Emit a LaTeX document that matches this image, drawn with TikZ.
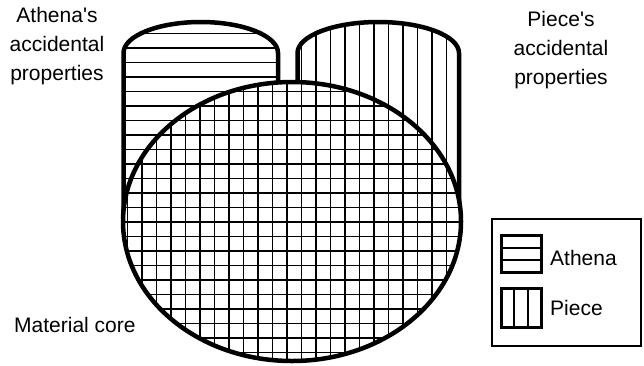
\documentclass[tikz,border=0pt]{standalone}
\usepackage{fontspec}
\setmainfont{Liberation Sans}[Ligatures=TeXOff]
\begin{document}
\begin{tikzpicture}[x=1pt,y=-1pt,
  outline/.style={line width=4.5pt,line join=round},
  hatch/.style={line width=1.8pt},
  lab/.style={font=\fontsize{21}{29}\selectfont,inner sep=0pt,align=center},
  legtext/.style={font=\fontsize{21}{26}\selectfont,inner sep=0pt,anchor=base west},
  swatch/.style={line width=3pt},
  swline/.style={line width=1.8pt}]
\useasboundingbox (0,0) rectangle (644,365);
\fill[white] (0,0) rectangle (644,365);
% shapes
\def\capL{(123.5,230) -- (123.5,53) arc[start angle=180,end angle=0,x radius=77.25,y radius=-31] -- (278,230) -- cycle}
\def\capR{(297.5,230) -- (297.5,53) arc[start angle=180,end angle=0,x radius=80.75,y radius=-31] -- (459,230) -- cycle}
\def\core{(292,221.5) ellipse[x radius=169,y radius=139.5]}
% horizontal hatching: left capsule and core
\begin{scope}
  \clip \capL;
  \foreach \k in {0,...,24} \draw[hatch] (100,33.5+14.5*\k) -- (300,33.5+14.5*\k);
\end{scope}
\begin{scope}
  \clip \core;
  \foreach \k in {0,...,24} \draw[hatch] (100,33.5+14.5*\k) -- (480,33.5+14.5*\k);
\end{scope}
% vertical hatching: right capsule and core
\begin{scope}
  \clip \capR;
  \foreach \k in {-1,...,11} \draw[hatch] (316+14.5*\k,0) -- (316+14.5*\k,240);
\end{scope}
\begin{scope}
  \clip \core;
  \foreach \k in {-14,...,11} \draw[hatch] (316+14.5*\k,60) -- (316+14.5*\k,370);
\end{scope}
% outlines of capsules outside the core
\begin{scope}[even odd rule]
  \clip (0,0) rectangle (644,365) \core;
  \draw[outline] \capL;
  \draw[outline] \capR;
\end{scope}
\draw[outline] \core;
% labels
\node[lab] (athenaprops) at (57,46) {Athena's\\accidental\\properties};
\node[lab] (pieceprops) at (561,50) {Piece's\\accidental\\properties};
\node[legtext] (core) at (14,332) {Material core};
% legend
\draw[line width=1.4pt] (492,219) rectangle (641,346);
\draw[swatch] (501,235.5) rectangle (541,272.5);
\draw[swline] (501,248) -- (541,248) (501,260) -- (541,260);
\node[legtext] (legathena) at (550,265) {Athena};
\draw[swatch] (501,288.5) rectangle (541,327.5);
\draw[swline] (514.3,288.5) -- (514.3,327.5) (527.7,288.5) -- (527.7,327.5);
\node[legtext] (legpiece) at (550,315) {Piece};
\end{tikzpicture}
\end{document}
